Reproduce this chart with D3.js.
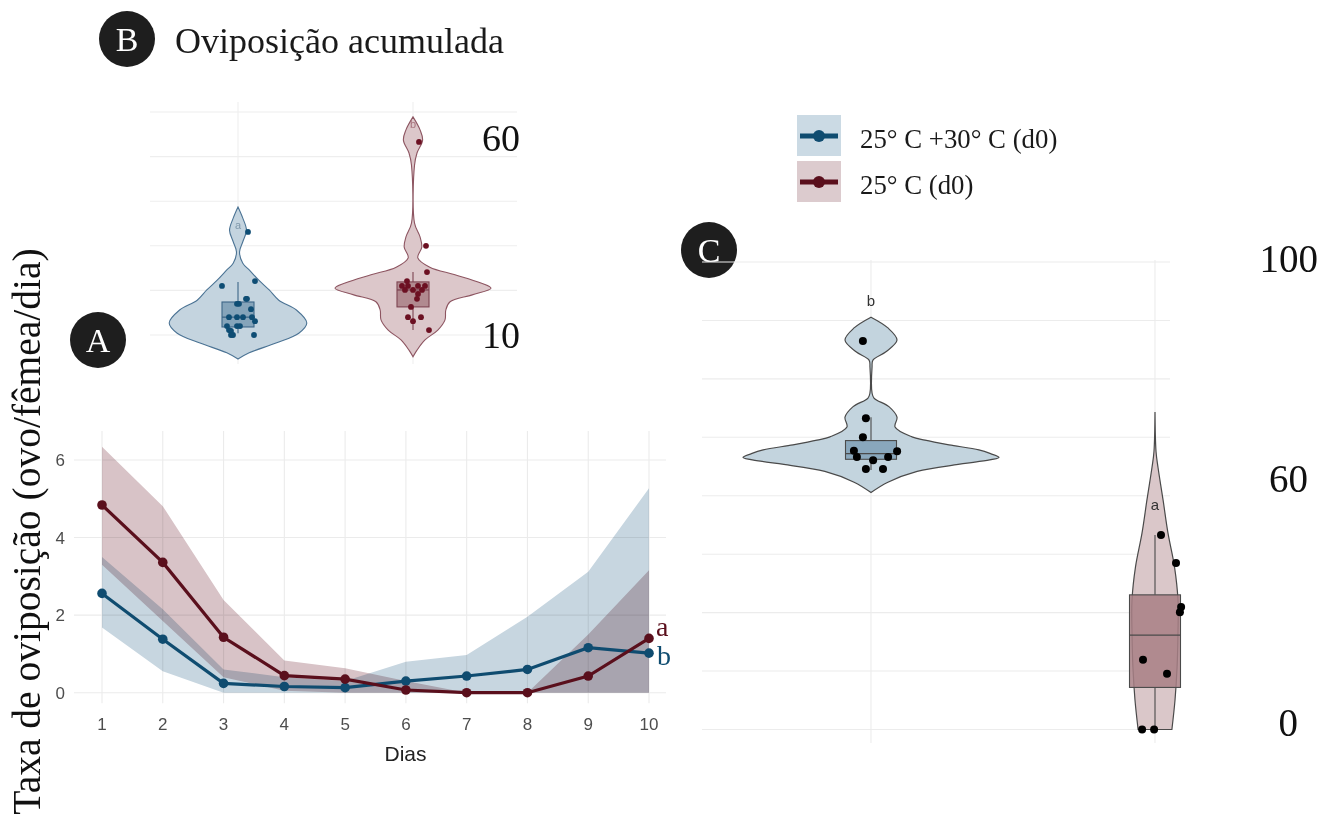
<!DOCTYPE html>
<html><head><meta charset="utf-8">
<script src="https://cdn.jsdelivr.net/npm/d3@7"></script>
<style>body{margin:0;background:#fff}</style>
</head><body><svg id="c" width="1333" height="820"></svg>
<script>
// ---------- Panel A: daily oviposition rate ----------
const days = [1,2,3,4,5,6,7,8,9,10];
const heatedMean  = [2.56,1.38,0.24,0.16,0.13,0.30,0.43,0.60,1.16,1.02];
const heatedLow   = [1.68,0.55,0,0,0,0,0,0,0,0];
const heatedHigh  = [3.5,2.15,0.6,0.4,0.3,0.8,0.97,1.96,3.12,5.27];
const controlMean = [4.84,3.36,1.43,0.44,0.35,0.07,0,0,0.43,1.4];
const controlLow  = [3.3,1.85,0.4,0.05,0,0,0,0,0,0];
const controlHigh = [6.34,4.81,2.39,0.83,0.63,0.3,0,0,1.5,3.16];
const rateTicks = [0,2,4,6];
const seriesNames = ["25° C +30° C (d0)", "25° C (d0)"];
const rateLetters = ["b","a"];

// ---------- Panel B: cumulative oviposition (violin) ----------
const cumTicks = [10,20,30,40,50,60];
const cumLabels = ["60","10"];
const cumViolinHeated = [[4.6,0],[6.0,0.14],[8.2,0.475],[10.4,0.76],[12.7,0.86],[15.6,0.73],[17.8,0.51],[20.1,0.39],[22.3,0.26],[24.6,0.14],[26.1,0.06],[28.6,0.019],[30.9,0.06],[33.5,0.106],[36.2,0.06],[38.7,0]];
const cumViolinControl = [[5.1,0],[6.6,0.05],[8.9,0.15],[11.1,0.31],[13.4,0.40],[15.6,0.41],[17.4,0.46],[19.0,0.74],[20.5,0.975],[21.7,0.84],[23.5,0.525],[25.2,0.21],[27.3,0.06],[29.7,0.11],[32.0,0.088],[35.1,0.019],[48.1,0.019],[50.8,0.05],[53.7,0.12],[56.0,0.088],[58.9,0]];
const cumBoxHeated  = [10.4,11.8,14.0,17.4,21.9];
const cumBoxControl = [11.1,16.3,20.1,21.9,24.1];
const cumPointsHeated = [33.1,21.0,22.1,17.0,17.0,18.1,18.1,15.8,14.0,14.0,14.0,14.0,13.1,12.0,12.0,12.0,11.1,10.9,10.0,10.0,10.0];
const cumJitterHeated = [0.5,-0.8,0.85,-0.05,0.05,0.4,0.45,0.65,-0.45,-0.05,0.25,0.7,0.85,-0.55,-0.05,0.1,-0.45,-0.35,-0.35,-0.25,0.8];
const cumPointsControl = [53.3,30.0,24.1,22.1,21.0,21.0,21.0,21.0,20.1,20.1,20.1,19.2,18.1,16.3,14.0,14.0,13.1,11.1];
const cumJitterControl = [0.3,0.65,0.7,-0.3,-0.55,-0.25,0.25,0.6,-0.4,0,0.45,0.25,0.2,-0.1,-0.25,0.4,0,0.8];
const cumLetters = ["a","b"];

// ---------- Panel C ----------
const cTicks = [0,12.5,25,37.5,50,62.5,75,87.5,100];
const cLabels = ["100","60","0"];
const cViolinHeated = [[50.7,0],[52.9,0.13],[55.2,0.355],[56.7,0.67],[57.4,0.85],[58.2,0.985],[59.0,0.92],[59.8,0.83],[60.9,0.6],[61.9,0.415],[62.6,0.315],[64.7,0.185],[66.8,0.2],[69.0,0.14],[70.9,0.023],[72.0,0.008],[77.5,0.008],[79.0,0.015],[80.8,0.115],[83.3,0.2],[85.9,0.13],[88.2,0]];
const cViolinControl = [[0,0.13],[6.3,0.154],[13.4,0.17],[20.6,0.177],[27.7,0.177],[34.8,0.15],[42.0,0.1],[49.1,0.062],[56.1,0.023],[59.4,0.008],[67.9,0]];
const cBoxHeated  = [55.5,57.8,59.0,61.8,66.8];
const cBoxControl = [0,9.0,20.2,28.8,41.6];
const cPointsHeated = [83.1,66.6,62.5,59.6,58.3,57.6,58.3,59.5,55.7,55.7];
const cJitterHeated = [-0.27,-0.17,-0.27,-0.57,-0.47,0.07,0.57,0.87,-0.17,0.4];
const cPointsControl = [41.6,35.6,26.2,25.1,14.9,11.9,0,0];
const cJitterControl = [0.2,0.7,0.87,0.83,-0.4,0.4,-0.43,-0.03];
const cLetters = ["b","a"];

const panelLetters = ["A","B","C"];
const titleB = "Oviposição acumulada";
const yTitle = "Taxa de oviposição (ovo/fêmea/dia)";
const xTitle = "Dias";

// ---------- styles ----------
const SERIF = "'Liberation Serif','Times New Roman',serif";
const SANS = "'Liberation Sans',Arial,sans-serif";
const blue = "#0f4c70", red = "#5a0f1c";
const grid = "#ebebeb";

const svg = d3.select("#c");
svg.append("rect").attr("width",1333).attr("height",820).attr("fill","#fff");

// ===== Panel A =====
const xA = d3.scaleLinear().domain([1,10]).range([102,649]);
const yA = d3.scaleLinear().domain([0,6]).range([692.7,460]);
const gA = svg.append("g");
gA.selectAll("line.v").data(days).join("line")
  .attr("x1",d=>xA(d)).attr("x2",d=>xA(d)).attr("y1",yA(6.75)).attr("y2",yA(-0.27))
  .attr("stroke",grid).attr("stroke-width",1.1);
gA.selectAll("line.h").data(rateTicks).join("line")
  .attr("x1",74).attr("x2",666).attr("y1",d=>yA(d)).attr("y2",d=>yA(d))
  .attr("stroke",grid).attr("stroke-width",1.1);

function ribbon(lo, hi){
  return d3.area().x((d,i)=>xA(days[i])).y0((d,i)=>yA(lo[i])).y1((d,i)=>yA(hi[i]))(days);
}
gA.append("path").attr("d",ribbon(heatedLow,heatedHigh)).attr("fill","#c7d6e0").style("mix-blend-mode","multiply");
gA.append("path").attr("d",ribbon(controlLow,controlHigh)).attr("fill","#d8c3c7").style("mix-blend-mode","multiply");

const lineA = d3.line().x((d,i)=>xA(days[i])).y(d=>yA(d));
[[heatedMean,blue],[controlMean,red]].forEach(([vals,col])=>{
  gA.append("path").attr("d",lineA(vals)).attr("fill","none").attr("stroke",col).attr("stroke-width",3.2);
  gA.selectAll(null).data(vals).join("circle")
    .attr("cx",(d,i)=>xA(days[i])).attr("cy",d=>yA(d)).attr("r",4.8).attr("fill",col);
});
gA.append("text").attr("x",xA(10)+7).attr("y",yA(controlMean[9])-2).text(rateLetters[1])
  .attr("font-family",SERIF).attr("font-size",28).attr("fill",red);
gA.append("text").attr("x",xA(10)+8).attr("y",yA(heatedMean[9])+12).text(rateLetters[0])
  .attr("font-family",SERIF).attr("font-size",28).attr("fill",blue);

gA.selectAll("text.yt").data(rateTicks).join("text")
  .attr("x",65).attr("y",d=>yA(d)+6).attr("text-anchor","end").text(d=>d)
  .attr("font-family",SANS).attr("font-size",17).attr("fill","#4d4d4d");
gA.selectAll("text.xt").data(days).join("text")
  .attr("x",d=>xA(d)).attr("y",730).attr("text-anchor","middle").text(d=>d)
  .attr("font-family",SANS).attr("font-size",17).attr("fill","#4d4d4d");
gA.append("text").attr("x",(xA(1)+xA(10))/2+30).attr("y",761).attr("text-anchor","middle").text(xTitle)
  .attr("font-family",SANS).attr("font-size",21).attr("fill","#222");

svg.append("text").attr("transform","translate(40,531.5) rotate(-90)").attr("text-anchor","middle")
  .text(yTitle).attr("font-family",SERIF).attr("font-size",39.5).attr("fill","#111");

// ===== badges & title =====
const badges = [[98,340],[127,39],[709,250]];
badges.forEach(([cx,cy],i)=>{
  svg.append("circle").attr("cx",cx).attr("cy",cy).attr("r",28).attr("fill","#1e1e1e");
  svg.append("text").attr("x",cx).attr("y",cy+12).attr("text-anchor","middle").text(panelLetters[i])
    .attr("font-family",SERIF).attr("font-size",34).attr("fill","#fff");
});
svg.append("text").attr("x",175).attr("y",53).text(titleB)
  .attr("font-family",SERIF).attr("font-size",36).attr("fill","#1a1a1a");

// ===== violin helper =====
function drawViolinPanel(g, yS, wS, jS, groups, opts){
  groups.forEach(gr=>{
    const area = d3.area()
      .y(d=>yS(d[0])).x0(d=>gr.cx - wS(d[1])).x1(d=>gr.cx + wS(d[1]))
      .curve(d3.curveCatmullRom.alpha(0.5));
    g.append("path").attr("d",area(gr.violin)).attr("fill",gr.vfill)
      .attr("stroke",gr.vstroke).attr("stroke-width",opts.vsw);
    const b = gr.box, hw = opts.boxHalf;
    g.append("line").attr("x1",gr.cx).attr("x2",gr.cx).attr("y1",yS(b[3])).attr("y2",yS(b[4]))
      .attr("stroke",gr.bstroke).attr("stroke-width",1.1);
    g.append("line").attr("x1",gr.cx).attr("x2",gr.cx).attr("y1",yS(b[1])).attr("y2",yS(b[0]))
      .attr("stroke",gr.bstroke).attr("stroke-width",1.1);
    g.append("rect").attr("x",gr.cx-hw).attr("width",2*hw).attr("y",yS(b[3])).attr("height",yS(b[1])-yS(b[3]))
      .attr("fill",gr.bfill).attr("fill-opacity",0.85).attr("stroke",gr.bstroke).attr("stroke-width",1.1);
    g.append("line").attr("x1",gr.cx-hw).attr("x2",gr.cx+hw).attr("y1",yS(b[2])).attr("y2",yS(b[2]))
      .attr("stroke",gr.bstroke).attr("stroke-width",1.3);
    g.selectAll(null).data(gr.points).join("circle")
      .attr("cx",(d,i)=>gr.cx + jS(gr.jitter[i])).attr("cy",d=>yS(d)).attr("r",opts.pr).attr("fill",gr.pfill);
    g.append("text").attr("x",gr.cx).attr("y",yS(gr.letterAt)).attr("text-anchor","middle").text(gr.letter)
      .attr("font-family",SANS).attr("font-size",opts.lsize).attr("fill",gr.lfill);
  });
}

// ===== Panel B =====
const yB = d3.scaleLinear().domain([10,60]).range([335,112]);
const wB = d3.scaleLinear().domain([0,1]).range([0,80]);
const jB = d3.scaleLinear().domain([-1,1]).range([-20,20]);
const gB = svg.append("g");
gB.selectAll("line.h").data(cumTicks).join("line")
  .attr("x1",150).attr("x2",517).attr("y1",d=>yB(d)).attr("y2",d=>yB(d)).attr("stroke","#eeeeee").attr("stroke-width",1.1);
[238,413].forEach(cx=>gB.append("line").attr("x1",cx).attr("x2",cx).attr("y1",102).attr("y2",364).attr("stroke","#eeeeee").attr("stroke-width",1.1));
drawViolinPanel(gB, yB, wB, jB, [
  {cx:238, violin:cumViolinHeated, box:cumBoxHeated, points:cumPointsHeated, jitter:cumJitterHeated,
   vfill:"#c4d4df", vstroke:"#4b7394", bfill:"#7a9bb4", bstroke:"#3d6687", pfill:"#0e4d74",
   letter:cumLetters[0], letterAt:33.8, lfill:"#7f97aa"},
  {cx:413, violin:cumViolinControl, box:cumBoxControl, points:cumPointsControl, jitter:cumJitterControl,
   vfill:"#dcc7ca", vstroke:"#8d5561", bfill:"#a97f86", bstroke:"#7d4451", pfill:"#6c1022",
   letter:cumLetters[1], letterAt:56.4, lfill:"#a8737d"}
], {vsw:1.1, boxHalf:16, pr:2.9, lsize:11});
gB.append("text").attr("x",520).attr("y",151).attr("text-anchor","end").text(cumLabels[0])
  .attr("font-family",SERIF).attr("font-size",38).attr("fill","#111");
gB.append("text").attr("x",520).attr("y",348).attr("text-anchor","end").text(cumLabels[1])
  .attr("font-family",SERIF).attr("font-size",38).attr("fill","#111");

// ===== Legend =====
const gL = svg.append("g");
const legendCols = [[blue,"#cbdae4"],[red,"#dccbce"]];
legendCols.forEach(([col,bg],i)=>{
  const y0 = 115 + i*46;
  gL.append("rect").attr("x",797).attr("y",y0).attr("width",44).attr("height",41).attr("fill",bg);
  gL.append("line").attr("x1",800).attr("x2",838).attr("y1",y0+21).attr("y2",y0+21).attr("stroke",col).attr("stroke-width",5);
  gL.append("circle").attr("cx",819).attr("cy",y0+21).attr("r",6).attr("fill",col);
  gL.append("text").attr("x",860).attr("y",y0+33).text(seriesNames[i])
    .attr("font-family",SERIF).attr("font-size",26.8).attr("fill","#1a1a1a");
});

// ===== Panel C =====
const yC = d3.scaleLinear().domain([0,100]).range([729.5,262]);
const wC = d3.scaleLinear().domain([0,1]).range([0,130]);
const jC = d3.scaleLinear().domain([-1,1]).range([-30,30]);
const gC = svg.append("g");
gC.selectAll("line.h").data(cTicks).join("line")
  .attr("x1",702).attr("x2",1170).attr("y1",d=>yC(d)).attr("y2",d=>yC(d)).attr("stroke","#ececec").attr("stroke-width",1.1);
[871,1155].forEach(cx=>gC.append("line").attr("x1",cx).attr("x2",cx).attr("y1",260).attr("y2",743).attr("stroke","#ececec").attr("stroke-width",1.1));
drawViolinPanel(gC, yC, wC, jC, [
  {cx:871, violin:cViolinHeated, box:cBoxHeated, points:cPointsHeated, jitter:cJitterHeated,
   vfill:"#c3d4de", vstroke:"#4a4a4a", bfill:"#7f9fb6", bstroke:"#4a4a4a", pfill:"#000",
   letter:cLetters[0], letterAt:90.5, lfill:"#333"},
  {cx:1155, violin:cViolinControl, box:cBoxControl, points:cPointsControl, jitter:cJitterControl,
   vfill:"#dac7c9", vstroke:"#4a4a4a", bfill:"#a87f85", bstroke:"#4a4a4a", pfill:"#000",
   letter:cLetters[1], letterAt:47.0, lfill:"#333"}
], {vsw:1.2, boxHalf:25.5, pr:4, lsize:15});
[[1318,272],[1308,492],[1298,736]].forEach(([x,y],i)=>{
  gC.append("text").attr("x",x).attr("y",y).attr("text-anchor","end").text(cLabels[i])
    .attr("font-family",SERIF).attr("font-size",39).attr("fill","#111");
});
</script></body></html>
